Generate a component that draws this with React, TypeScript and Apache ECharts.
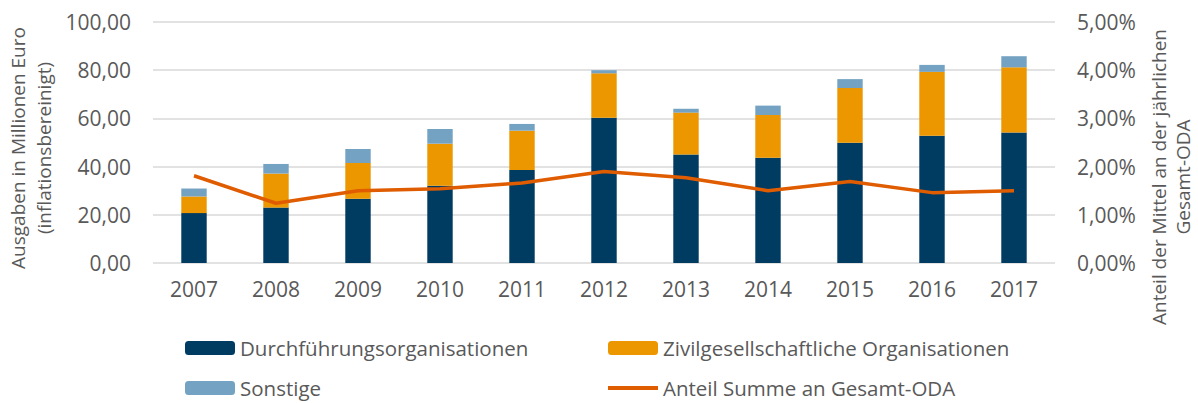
import React, { useEffect, useRef } from "react";
import * as echarts from "echarts";

const years = ["2007", "2008", "2009", "2010", "2011", "2012", "2013", "2014", "2015", "2016", "2017"];
const durchfuehrung = [20.7, 23.0, 26.7, 32.1, 38.6, 60.3, 45.0, 43.7, 49.9, 52.8, 54.2];
const zivil = [6.9, 14.1, 14.8, 17.4, 16.3, 18.4, 17.4, 17.7, 22.7, 26.5, 27.0];
const sonstige = [3.3, 4.0, 5.8, 6.1, 2.8, 1.3, 1.6, 3.9, 3.7, 2.9, 4.6];
const anteil = [1.81, 1.24, 1.5, 1.54, 1.66, 1.9, 1.77, 1.5, 1.69, 1.46, 1.5];

const FONT = "Open Sans";
const GREY = "#595959";

const legendBase = {
  orient: "horizontal",
  itemWidth: 50,
  itemHeight: 14,
  itemGap: 5,
  padding: 0,
  textStyle: { color: GREY, fontSize: 20.5, fontFamily: FONT, lineHeight: 22 },
};

export default function App() {
  const ref = useRef<HTMLDivElement>(null);
  useEffect(() => {
    if (!ref.current) return;
    const chart = echarts.init(ref.current, null, { renderer: "svg" });
    chart.setOption({
      animation: false,
      textStyle: { fontFamily: FONT, color: GREY },
      grid: { left: 153, right: 143, top: 22, bottom: 140 },
      xAxis: {
        type: "category",
        data: years,
        axisLine: { show: false },
        axisTick: { show: false },
        axisLabel: { color: GREY, fontSize: 21, fontFamily: FONT, margin: 15 },
      },
      yAxis: [
        {
          type: "value",
          min: 0,
          max: 100,
          interval: 20,
          axisLine: { show: false },
          axisTick: { show: false },
          splitLine: { lineStyle: { color: "#d9d9d9", width: 1.5 } },
          axisLabel: {
            color: GREY,
            fontSize: 21,
            fontFamily: FONT,
            margin: 22,
            formatter: (v: number) => v.toFixed(2).replace(".", ","),
          },
        },
        {
          type: "value",
          min: 0,
          max: 5,
          interval: 1,
          axisLine: { show: false },
          axisTick: { show: false },
          splitLine: { show: false },
          axisLabel: {
            color: GREY,
            fontSize: 21,
            fontFamily: FONT,
            margin: 22,
            formatter: (v: number) => v.toFixed(2).replace(".", ",") + "%",
          },
        },
      ],
      legend: [
        { ...legendBase, left: 185, top: 337, data: ["Durchführungsorganisationen"] },
        { ...legendBase, left: 185, top: 377, data: ["Sonstige"] },
        { ...legendBase, left: 608, top: 337, data: ["Zivilgesellschaftliche Organisationen"] },
        {
          ...legendBase,
          left: 608,
          top: 377,
          data: [
            {
              name: "Anteil Summe an Gesamt-ODA",
              icon: "path://M0,0 L50,0 L50,4 L0,4 Z",
            },
          ],
          itemHeight: 4,
        },
      ],
      graphic: [
        {
          type: "text",
          x: 31,
          y: 148,
          rotation: Math.PI / 2,
          style: {
            text: "Ausgaben in Millionen Euro\n(inflationsbereinigt)",
            fill: GREY,
            font: `19px "${FONT}"`,
            align: "center",
            verticalAlign: "middle",
            lineHeight: 26,
          },
        },
        {
          type: "text",
          x: 1171,
          y: 177,
          rotation: Math.PI / 2,
          style: {
            text: "Anteil der Mittel an der jährlichen\nGesamt-ODA",
            fill: GREY,
            font: `19px "${FONT}"`,
            align: "center",
            verticalAlign: "middle",
            lineHeight: 24,
          },
        },
      ],
      series: [
        {
          name: "Durchführungsorganisationen",
          type: "bar",
          stack: "a",
          data: durchfuehrung,
          barWidth: "31%",
          itemStyle: { color: "#003B62" },
        },
        {
          name: "Zivilgesellschaftliche Organisationen",
          type: "bar",
          stack: "a",
          data: zivil,
          barWidth: "31%",
          itemStyle: { color: "#EC9700" },
        },
        {
          name: "Sonstige",
          type: "bar",
          stack: "a",
          data: sonstige,
          barWidth: "31%",
          itemStyle: { color: "#74A2C2" },
        },
        {
          name: "Anteil Summe an Gesamt-ODA",
          type: "line",
          yAxisIndex: 1,
          data: anteil,
          symbol: "none",
          lineStyle: { color: "#E05C00", width: 3.5 },
          itemStyle: { color: "#E05C00" },
        },
      ],
    });
    return () => chart.dispose();
  }, []);
  return <div ref={ref} style={{ width: 1198, height: 403, position: "absolute", left: 0, top: 0 }} />;
}
